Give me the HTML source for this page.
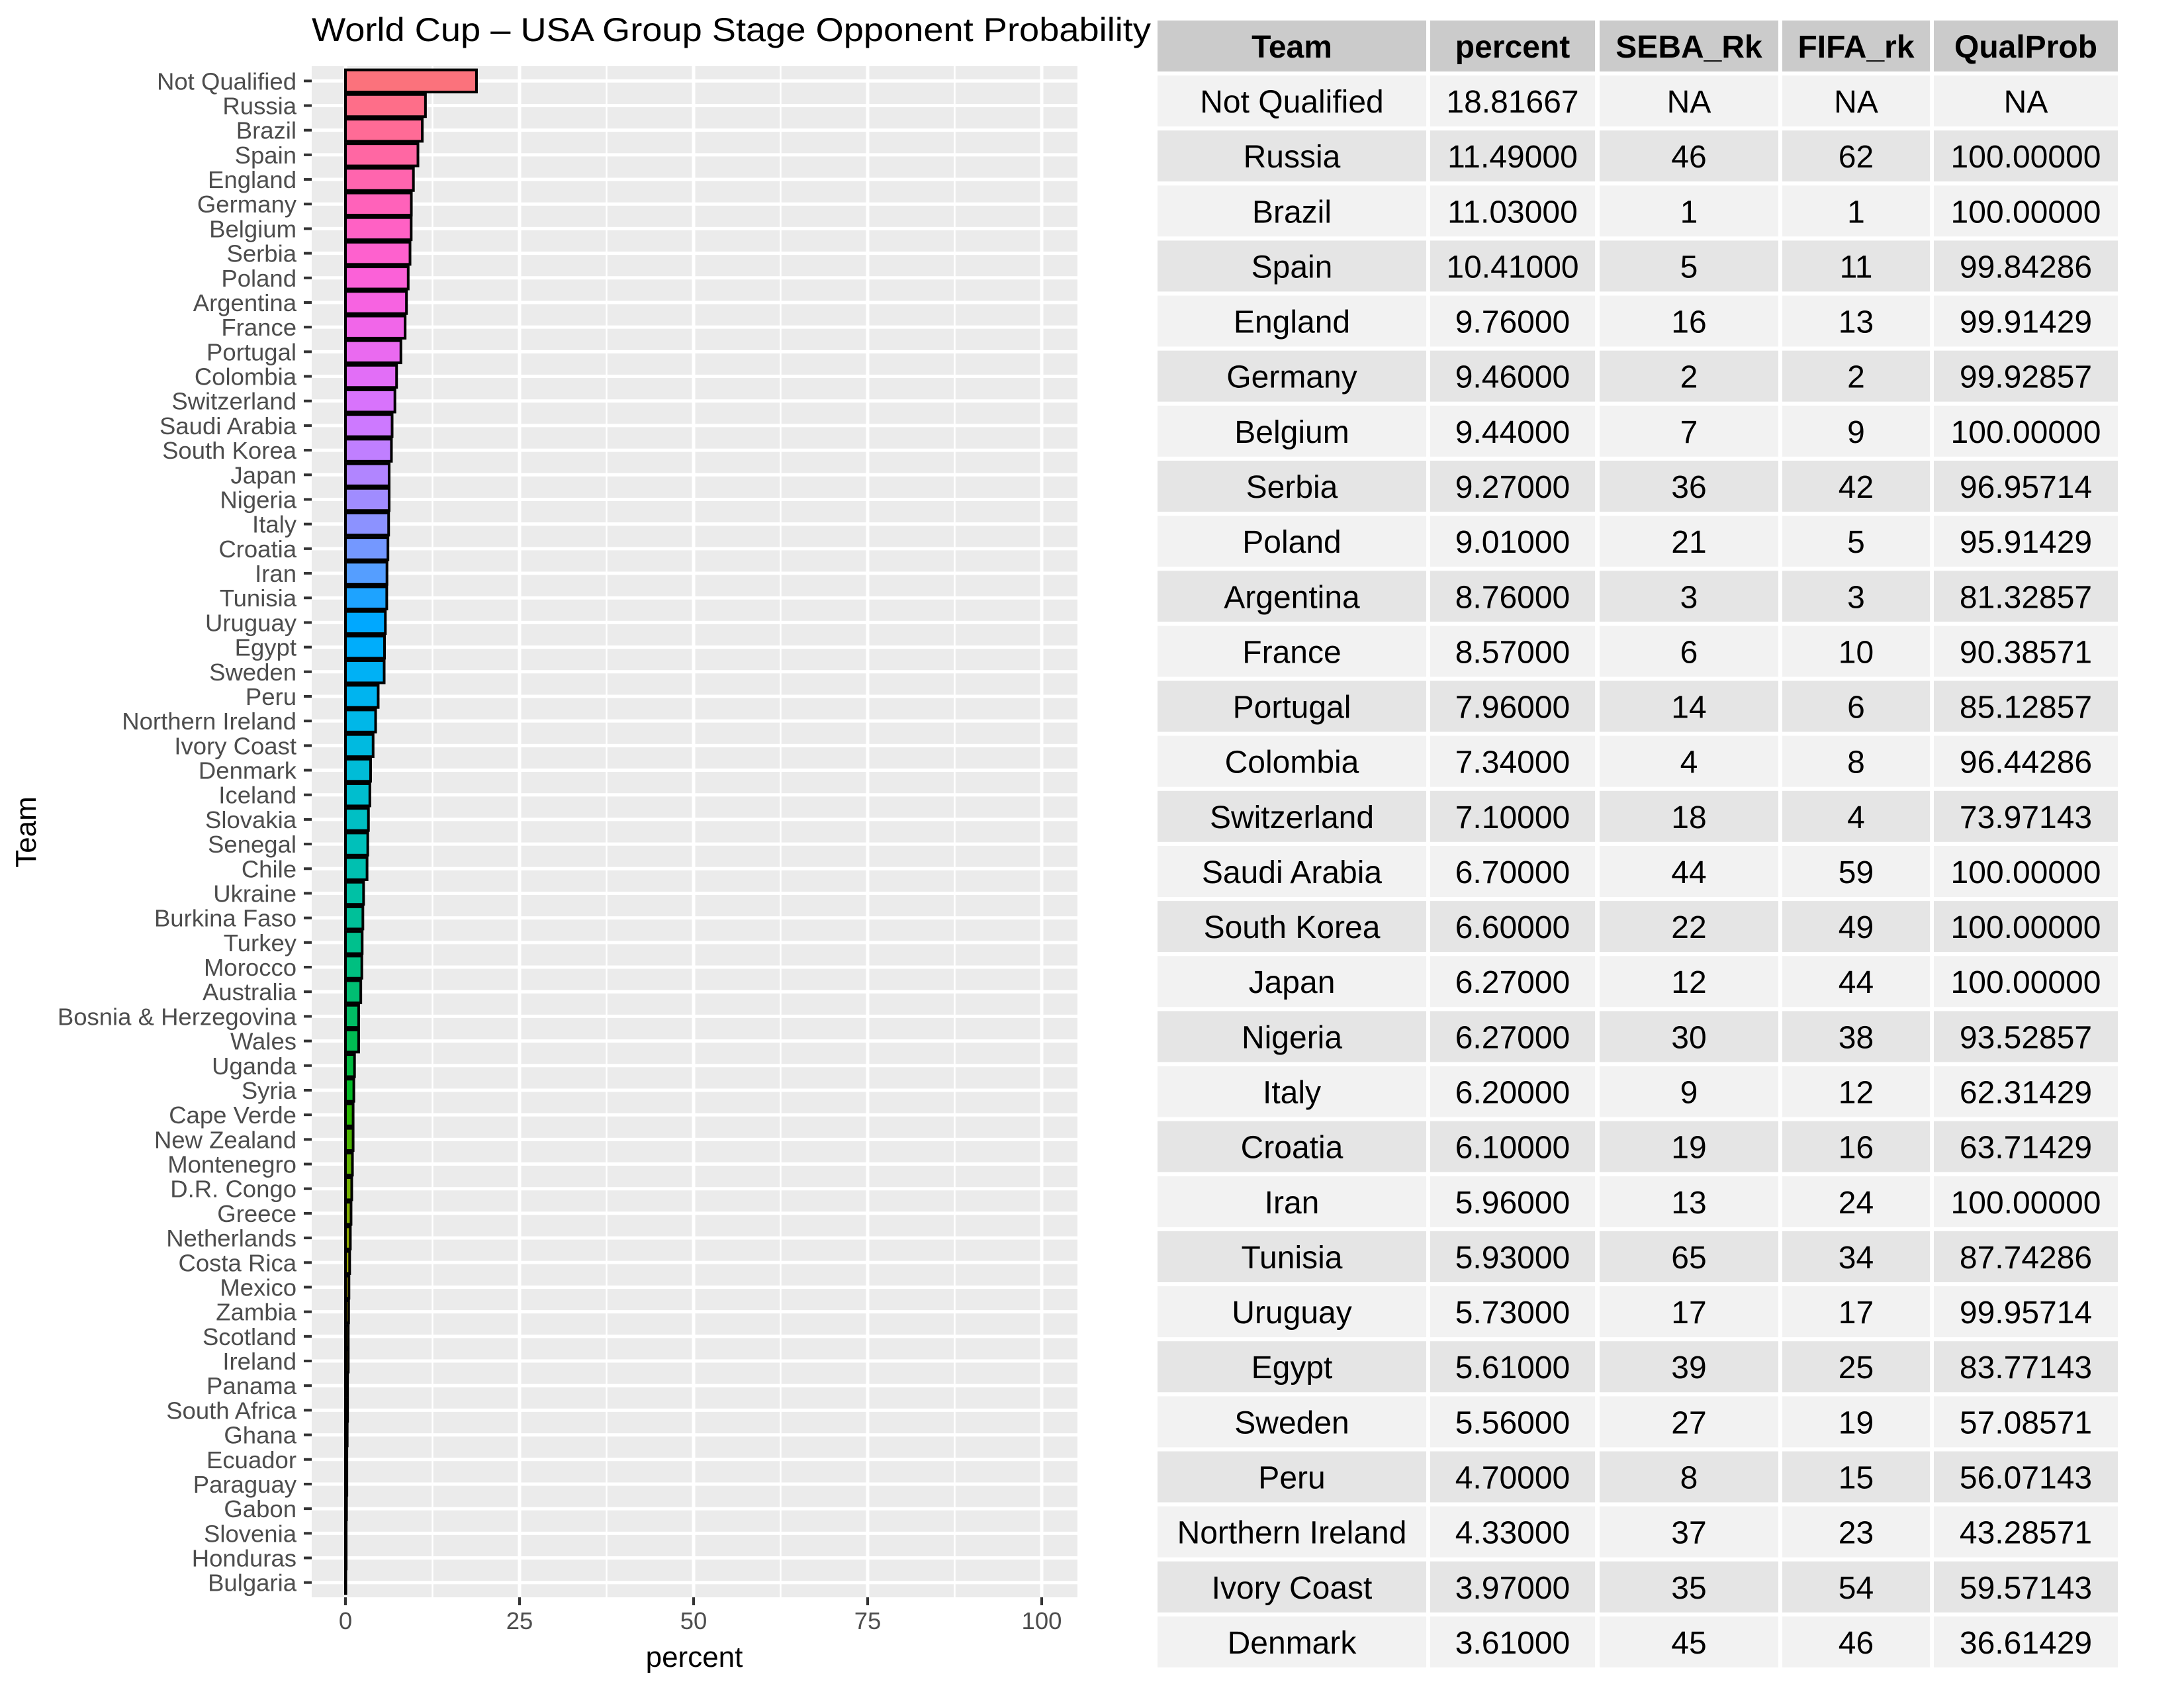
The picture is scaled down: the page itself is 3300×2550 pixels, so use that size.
<!DOCTYPE html>
<html><head><meta charset="utf-8"><style>
html,body{margin:0;padding:0;background:#fff;}
svg{display:block;}
text{font-family:"Liberation Sans",sans-serif;}
</style></head><body>
<svg id="s" width="3300" height="2550" viewBox="0 0 3300 2550" xmlns="http://www.w3.org/2000/svg">
<rect width="3300" height="2550" fill="#fff"/>
<g id="g"></g>
<text x="471" y="62" font-size="50" textLength="1268" lengthAdjust="spacingAndGlyphs" fill="#000">World Cup – USA Group Stage Opponent Probability</text>
<text x="0" y="0" font-size="44" fill="#000" text-anchor="middle" transform="translate(54,1257) rotate(-90)">Team</text>
<text x="1049" y="2518" font-size="44" fill="#000" text-anchor="middle">percent</text>
</svg>
<script>
(function(){
var teams=[["Not Qualified",18.81667],["Russia",11.49],["Brazil",11.03],["Spain",10.41],["England",9.76],["Germany",9.46],["Belgium",9.44],["Serbia",9.27],["Poland",9.01],["Argentina",8.76],["France",8.57],["Portugal",7.96],["Colombia",7.34],["Switzerland",7.10],["Saudi Arabia",6.70],["South Korea",6.60],["Japan",6.27],["Nigeria",6.27],["Italy",6.20],["Croatia",6.10],["Iran",5.96],["Tunisia",5.93],["Uruguay",5.73],["Egypt",5.61],["Sweden",5.56],["Peru",4.70],["Northern Ireland",4.33],["Ivory Coast",3.97],["Denmark",3.61],["Iceland",3.5],["Slovakia",3.3],["Senegal",3.2],["Chile",3.1],["Ukraine",2.6],["Burkina Faso",2.5],["Turkey",2.4],["Morocco",2.35],["Australia",2.2],["Bosnia & Herzegovina",1.9],["Wales",1.9],["Uganda",1.3],["Syria",1.2],["Cape Verde",1.1],["New Zealand",1.1],["Montenegro",1.0],["D.R. Congo",0.9],["Greece",0.8],["Netherlands",0.7],["Costa Rica",0.6],["Mexico",0.5],["Zambia",0.45],["Scotland",0.4],["Ireland",0.4],["Panama",0.3],["South Africa",0.3],["Ghana",0.25],["Ecuador",0.2],["Paraguay",0.2],["Gabon",0.15],["Slovenia",0.1],["Honduras",0.1],["Bulgaria",0.05]];
function hcl(h){var L=65,C=100,r=h*Math.PI/180;var u=C*Math.cos(r),v=C*Math.sin(r);var Y=Math.pow((L+16)/116,3);var un=0.19784,vn=0.46834;var up=u/(13*L)+un,vp=v/(13*L)+vn;var X=Y*9*up/(4*vp),Z=Y*(12-3*up-20*vp)/(4*vp);var R=3.2406*X-1.5372*Y-0.4986*Z,G=-0.9689*X+1.8758*Y+0.0415*Z,B=0.0557*X-0.2040*Y+1.0570*Z;function g(c){c=c<=0.0031308?12.92*c:1.055*Math.pow(c,1/2.4)-0.055;c=Math.max(0,Math.min(1,c));return Math.round(c*255);}return "rgb("+g(R)+","+g(G)+","+g(B)+")";}
var s="";var x0=522,k=10.52,pt=100,pb=2413,pl=471,pr=1628;var n=teams.length;var step=(pb-pt)/(n-1+1.2);
s+='<rect x="'+pl+'" y="'+pt+'" width="'+(pr-pl)+'" height="'+(pb-pt)+'" fill="#ebebeb"/>';
for(var v=12.5;v<105;v+=25){var xx=x0+k*v;s+='<line x1="'+xx+'" x2="'+xx+'" y1="'+pt+'" y2="'+pb+'" stroke="#fff" stroke-width="2.5"/>';}
for(var v=0;v<=100;v+=25){var xx=x0+k*v;s+='<line x1="'+xx+'" x2="'+xx+'" y1="'+pt+'" y2="'+pb+'" stroke="#fff" stroke-width="5"/>';}
for(var i=0;i<n;i++){var cy=pt+step*(0.6+i);s+='<line x1="'+pl+'" x2="'+pr+'" y1="'+cy+'" y2="'+cy+'" stroke="#fff" stroke-width="5"/>';}
for(var i=0;i<n;i++){var cy=pt+step*(0.6+i);var h=step*0.9;var w=k*teams[i][1];var hue=15+360*(n-1-i)/n;
s+='<rect x="'+x0+'" y="'+(cy-h/2)+'" width="'+w+'" height="'+h+'" fill="'+hcl(hue)+'" stroke="#000" stroke-width="4"/>';
s+='<line x1="459" x2="471" y1="'+cy+'" y2="'+cy+'" stroke="#333" stroke-width="4"/>';
s+='<text x="448" y="'+(cy+13)+'" font-size="36.5" fill="#4d4d4d" text-anchor="end">'+teams[i][0].replace("&","&amp;")+'</text>';}
for(var v=0;v<=100;v+=25){var xx=x0+k*v;s+='<line x1="'+xx+'" x2="'+xx+'" y1="'+pb+'" y2="'+(pb+12)+'" stroke="#333" stroke-width="4"/>';s+='<text x="'+xx+'" y="2461" font-size="36.5" fill="#4d4d4d" text-anchor="middle">'+v+'</text>';}
var tbl=[["Not Qualified","18.81667","NA","NA","NA"],["Russia","11.49000","46","62","100.00000"],["Brazil","11.03000","1","1","100.00000"],["Spain","10.41000","5","11","99.84286"],["England","9.76000","16","13","99.91429"],["Germany","9.46000","2","2","99.92857"],["Belgium","9.44000","7","9","100.00000"],["Serbia","9.27000","36","42","96.95714"],["Poland","9.01000","21","5","95.91429"],["Argentina","8.76000","3","3","81.32857"],["France","8.57000","6","10","90.38571"],["Portugal","7.96000","14","6","85.12857"],["Colombia","7.34000","4","8","96.44286"],["Switzerland","7.10000","18","4","73.97143"],["Saudi Arabia","6.70000","44","59","100.00000"],["South Korea","6.60000","22","49","100.00000"],["Japan","6.27000","12","44","100.00000"],["Nigeria","6.27000","30","38","93.52857"],["Italy","6.20000","9","12","62.31429"],["Croatia","6.10000","19","16","63.71429"],["Iran","5.96000","13","24","100.00000"],["Tunisia","5.93000","65","34","87.74286"],["Uruguay","5.73000","17","17","99.95714"],["Egypt","5.61000","39","25","83.77143"],["Sweden","5.56000","27","19","57.08571"],["Peru","4.70000","8","15","56.07143"],["Northern Ireland","4.33000","37","23","43.28571"],["Ivory Coast","3.97000","35","54","59.57143"],["Denmark","3.61000","45","46","36.61429"]];
var cols=[[1749,2155],[2161,2410],[2417,2687],[2693,2916],[2922,3200]];var hd=["Team","percent","SEBA_Rk","FIFA_rk","QualProb"];
for(var c=0;c<5;c++){var a=cols[c];s+='<rect x="'+a[0]+'" y="31" width="'+(a[1]-a[0])+'" height="77" fill="#cbcbcb"/>';s+='<text x="'+((a[0]+a[1])/2)+'" y="87" font-size="48" font-weight="bold" text-anchor="middle" fill="#000">'+hd[c]+'</text>';}
for(var r=0;r<tbl.length;r++){var y=114+r*83.14;var f=r%2==0?"#f2f2f2":"#e5e5e5";for(var c=0;c<5;c++){var a=cols[c];s+='<rect x="'+a[0]+'" y="'+y+'" width="'+(a[1]-a[0])+'" height="77" fill="'+f+'"/>';s+='<text x="'+((a[0]+a[1])/2)+'" y="'+(y+56)+'" font-size="48" text-anchor="middle" fill="#000">'+tbl[r][c]+'</text>';}}
document.getElementById("g").innerHTML=s;
})();
</script>
</body></html>
